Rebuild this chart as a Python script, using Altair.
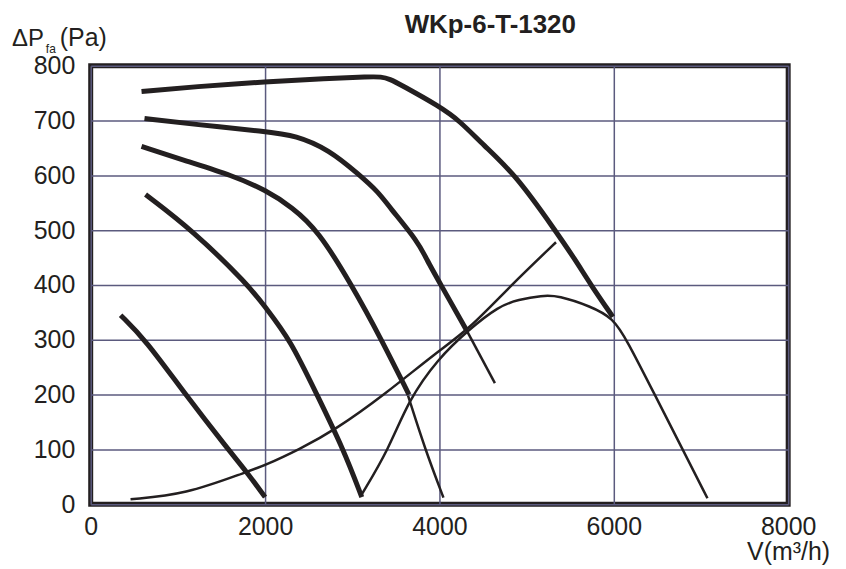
import altair as alt
import pandas as pd

# Fan curves (thick) - airflow V (m3/h) and pressure dPfa (Pa)
c1_v = [583, 1200, 2011, 2700, 3200, 3330, 3430, 3560, 4000, 4229, 4500, 4869, 5326, 5554, 5737, 5989]
c1_p = [753, 762, 771, 777, 780, 780, 776, 765, 726, 700, 656, 602, 500, 447, 400, 342]

c2_v = [617, 1200, 2011, 2354, 2731, 3074, 3303, 3417, 3760, 3851, 4000, 4309]
c2_p = [704, 693, 680, 673, 647, 602, 569, 544, 478, 447, 405, 318]

c3_v = [583, 1100, 1623, 2011, 2309, 2606, 2994, 3337, 3650]
c3_p = [653, 626, 600, 573, 542, 500, 400, 300, 200]

c4_v = [629, 1166, 1809, 2000, 2290, 2594, 2900, 3109]
c4_p = [565, 500, 400, 360, 300, 200, 100, 13]

c5_v = [343, 629, 1086, 1577, 1794, 2000]
c5_p = [345, 300, 200, 100, 58, 13]

# Thin continuations
t2_v = [4309, 4636]
t2_p = [318, 221]

t3_v = [3640, 3836, 4046]
t3_p = [198, 100, 12]

# System curve (thin)
s_v = [457, 1086, 1771, 2000, 2390, 2808, 3370, 3981, 4331, 4823, 5337]
s_p = [9, 18, 58, 71, 100, 136, 200, 279, 318, 400, 478]

# Hump curve (thin) incl. continuation beyond 6000
h_v = [3109, 3417, 3646, 3981, 4331, 4686, 4903, 5177, 5360, 5737, 5989, 6149, 6469, 6789, 7074]
h_p = [18, 100, 190, 265, 318, 362, 373, 381, 381, 361, 340, 300, 200, 100, 11]

x_ticks = [0, 2000, 4000, 6000, 8000]
y_ticks = [0, 100, 200, 300, 400, 500, 600, 700, 800]

title_text = "WKp-6-T-1320"
ink = "#231f20"
grid = "#5b5a7e"
font = "Liberation Sans"


def frame(name, vs, ps):
    return pd.DataFrame({"curve": name, "v": vs, "p": ps})


thick_df = pd.concat([frame("c1", c1_v, c1_p), frame("c2", c2_v, c2_p),
                      frame("c3", c3_v, c3_p), frame("c4", c4_v, c4_p),
                      frame("c5", c5_v, c5_p)])
thin_df = pd.concat([frame("t2", t2_v, t2_p), frame("t3", t3_v, t3_p),
                     frame("s", s_v, s_p), frame("h", h_v, h_p)])

xs = alt.X("v:Q", scale=alt.Scale(domain=[0, 8000], nice=False, zero=False),
           axis=alt.Axis(values=x_ticks, title=None, grid=True, gridColor=grid,
                         gridWidth=1.5, domain=False, ticks=False, labelFlush=False,
                         labelFontSize=25, labelFont=font, labelColor=ink,
                         labelPadding=10, format="d"))
ys = alt.Y("p:Q", scale=alt.Scale(domain=[0, 800], nice=False),
           axis=alt.Axis(values=y_ticks, title=None, grid=True, gridColor=grid,
                         gridWidth=1.5, domain=False, ticks=False,
                         labelFontSize=25, labelFont=font, labelColor=ink,
                         labelPadding=16, format="d"))

thick = alt.Chart(thick_df).mark_line(
    interpolate="basis", strokeWidth=5, color=ink, strokeCap="butt"
).encode(x=xs, y=ys, detail="curve:N", order="v:Q")

thin = alt.Chart(thin_df).mark_line(
    interpolate="basis", strokeWidth=2.5, color=ink
).encode(x="v:Q", y="p:Q", detail="curve:N", order="v:Q")


def label(txt, x, y, size, weight="normal", align="left"):
    return alt.Chart(pd.DataFrame({"t": [txt]})).mark_text(
        font=font, fontSize=size, fontWeight=weight, color=ink,
        align=align, baseline="alphabetic"
    ).encode(x=alt.value(x), y=alt.value(y), text="t:N")


chart = alt.layer(
    thick, thin,
    label(title_text, 401, -33, 26, "bold", "center"),
    label("ΔP", -79, -20, 24),
    label("fa", -45, -13, 12),
    label("(Pa)", -31, -20, 25),
    label("V(m³/h)", 742, 496, 25, align="right"),
).properties(
    width=700, height=440,
    autosize=alt.AutoSizeParams(type="none"),
    padding={"left": 83, "top": 57, "right": 50, "bottom": 64},
).configure_view(stroke=ink, strokeWidth=5)

chart.save("out.html", embed_options={"renderer": "svg", "actions": False})
